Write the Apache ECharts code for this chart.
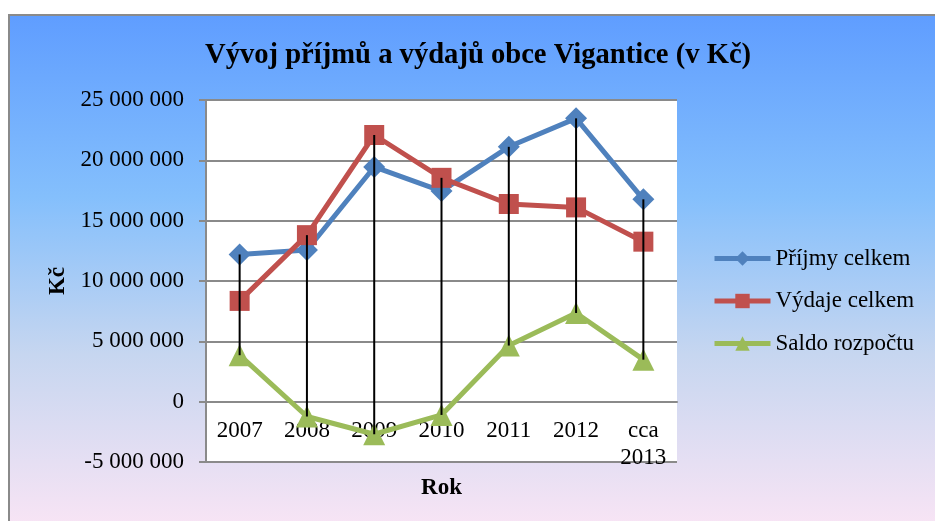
<!DOCTYPE html>
<html lang="cs">
<head>
    <meta charset="UTF-8">
    <title>Vigantice</title>
    <script src="https://cdn.jsdelivr.net/npm/echarts@6/dist/echarts.min.js"></script>
    <style>
        html, body { margin: 0; padding: 0; background: #fff; overflow: hidden; }
    </style>
</head>
<body>
    <div id="main" style="width: 935px;height:521px;"></div>
    <script type="text/javascript">
        // data
        var roky = ['2007', '2008', '2009', '2010', '2011', '2012', 'cca\n2013'];
        var prijmy = [12200000, 12570000, 19450000, 17450000, 21120000, 23480000, 16770000];
        var vydaje = [8350000, 13800000, 22100000, 18550000, 16380000, 16100000, 13260000];
        var saldo = [3850000, -1230000, -2700000, -1100000, 4650000, 7350000, 3480000];
        var osaY = [-5000000, 25000000, 5000000]; // min, max, interval

        var FONT = "'Liberation Serif', 'Times New Roman', serif";
        var plotH = 362;

        function mezery(v) {
            return String(v).replace(/\B(?=(\d{3})+(?!\d))/g, ' ');
        }

        // high-low lines: from max to min of the three series
        var hl = roky.map(function (r, i) {
            var vals = [prijmy[i], vydaje[i], saldo[i]];
            return [i, Math.max.apply(null, vals), Math.min.apply(null, vals)];
        });

        // category axis crosses the value axis at 0
        var nulaOffset = -plotH * (0 - osaY[0]) / (osaY[1] - osaY[0]);

        var myChart = echarts.init(document.getElementById('main'));

        var option = {
            backgroundColor: '#fff',
            animation: false,
            graphic: [{
                type: 'rect',
                z: -10,
                shape: { x: 9, y: 15, width: 940, height: 520 },
                style: {
                    fill: new echarts.graphic.LinearGradient(0, 0, 0, 1, [
                        { offset: 0, color: '#5f9dff' },
                        { offset: 0.35, color: '#84bffc' },
                        { offset: 0.65, color: '#c6d6f0' },
                        { offset: 1, color: '#fbe5f5' }
                    ]),
                    stroke: '#8a8a8a',
                    lineWidth: 2
                }
            }],
            title: {
                text: 'Vývoj příjmů a výdajů obce Vigantice (v Kč)',
                left: 205,
                top: 41,
                padding: 0,
                textStyle: { fontFamily: FONT, fontSize: 28.6, fontWeight: 'bold', color: '#000' }
            },
            legend: {
                orient: 'vertical',
                left: 712,
                top: 247,
                padding: 0,
                itemWidth: 56,
                itemHeight: 18,
                itemGap: 19.5,
                lineStyle: { width: 5 },
                data: ['Příjmy celkem', 'Výdaje celkem', 'Saldo rozpočtu'],
                textStyle: { fontFamily: FONT, fontSize: 23, color: '#000' }
            },
            grid: {
                left: 206, right: 258, top: 100, bottom: 521 - 100 - plotH,
                outerBoundsMode: 'none',
                show: true, backgroundColor: '#fff', borderWidth: 0
            },
            xAxis: {
                type: 'category',
                data: roky,
                offset: nulaOffset,
                name: 'Rok',
                nameLocation: 'middle',
                nameGap: 70,
                nameTextStyle: { fontFamily: FONT, fontSize: 23, fontWeight: 'bold', color: '#000' },
                axisLine: { onZero: false, lineStyle: { color: '#8a8a8a', width: 2 } },
                axisTick: { length: 6, lineStyle: { color: '#8a8a8a', width: 2 } },
                axisLabel: { fontFamily: FONT, fontSize: 23, color: '#000', margin: 16, lineHeight: 27, interval: 0 }
            },
            yAxis: {
                type: 'value',
                min: osaY[0],
                max: osaY[1],
                interval: osaY[2],
                name: 'Kč',
                nameLocation: 'middle',
                nameGap: 136,
                nameTextStyle: { fontFamily: FONT, fontSize: 23, fontWeight: 'bold', color: '#000' },
                axisLine: { show: true, lineStyle: { color: '#8a8a8a', width: 2 } },
                axisTick: { show: true, length: 7, lineStyle: { color: '#8a8a8a', width: 2 } },
                splitLine: { lineStyle: { color: '#8a8a8a', width: 2 } },
                axisLabel: {
                    fontFamily: FONT, fontSize: 23, color: '#000', margin: 22,
                    formatter: mezery
                }
            },
            series: [
                {
                    name: 'Příjmy celkem',
                    type: 'line',
                    data: prijmy,
                    symbol: 'diamond',
                    symbolSize: 22,
                    color: '#4f81bd',
                    lineStyle: { width: 5 }
                },
                {
                    name: 'Výdaje celkem',
                    type: 'line',
                    data: vydaje,
                    symbol: 'rect',
                    symbolSize: 20,
                    color: '#c0504d',
                    lineStyle: { width: 5 }
                },
                {
                    name: 'Saldo rozpočtu',
                    type: 'line',
                    data: saldo,
                    symbol: 'triangle',
                    symbolSize: 22,
                    color: '#9bbb59',
                    lineStyle: { width: 5 }
                },
                {
                    name: 'hl',
                    type: 'custom',
                    z: 5,
                    data: hl,
                    encode: { x: 0, y: [1, 2] },
                    renderItem: function (params, api) {
                        var a = api.coord([api.value(0), api.value(1)]);
                        var b = api.coord([api.value(0), api.value(2)]);
                        return {
                            type: 'line',
                            shape: { x1: a[0], y1: a[1], x2: b[0], y2: b[1] },
                            style: { stroke: '#000', lineWidth: 2 }
                        };
                    }
                }
            ]
        };

        myChart.setOption(option);
    </script>
</body>
</html>
